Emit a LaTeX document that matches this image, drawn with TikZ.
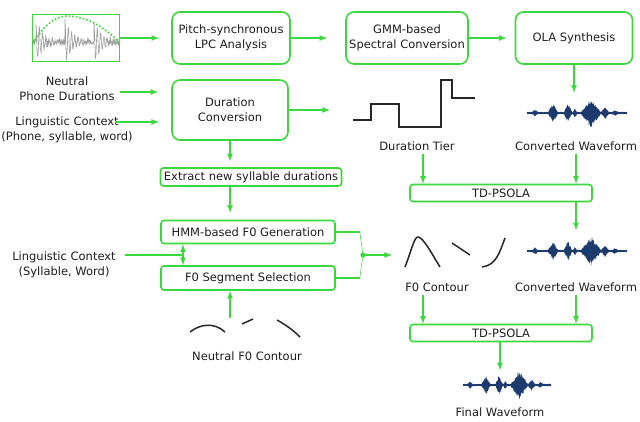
\documentclass[tikz,border=0pt]{standalone}
\usepackage{fontspec}
\setmainfont{DejaVu Sans}
\usepackage{tikz}
\usetikzlibrary{arrows}
\definecolor{boxgreen}{RGB}{60,215,60}
\definecolor{wblue}{RGB}{28,58,110}
\definecolor{txtgray}{RGB}{30,30,30}
\newcommand{\speechwave}[2]{%
  \fill[wblue,shift={#1},xscale=#2] plot[domain=0:100,samples=260] (\x,{wenv(\x)*(0.55+0.45*rnd)})
    -- plot[domain=100:0,samples=260] (\x,{-wenv(\x)*(0.55+0.45*rnd)}) -- cycle;}

\begin{document}
\pgfmathsetseed{17}
\begin{tikzpicture}[x=1pt,y=-1pt,
  declare function={bp(\t,\c,\w)=max(0,1-abs(\t-\c)/\w);
    wenv(\t)=1.2+3*bp(\t,8,3)+9*bp(\t,26,5)+10*bp(\t,41,4)+4*bp(\t,48,2)+14*bp(\t,64,10)+5*bp(\t,78,4)+2*bp(\t,88,3);},
  every node/.style={text=txtgray,font=\fontsize{11.5}{15}\selectfont},
  gbox/.style={draw=boxgreen,line width=1.6pt,rounded corners=8pt,fill=white,align=center,inner sep=0pt},
  sbox/.style={draw=boxgreen,line width=1.6pt,rounded corners=3pt,fill=white,inner sep=0pt},
  lab/.style={align=center},
  gline/.style={draw=boxgreen,line width=1.6pt},
  arr/.style={gline,-latex},
  darr/.style={gline,latex-latex},
  curve/.style={draw=black!85,line width=1.5pt}]
\fill[white] (0,0) rectangle (640,421);
\useasboundingbox (0,0) rectangle (640,421);

% top row
\node[draw=boxgreen,line width=1.6pt,minimum width=87pt,minimum height=47pt,inner sep=0pt] (thumb) at (76,38) {};
\begin{scope}
\clip (thumb.south west) rectangle (thumb.north east);
\draw[gray!75,line width=0.6pt] plot[domain=33:120,samples=300] (\x,{42-21*exp(-mod(\x+51,29)/7)*cos(mod(\x+51,29)*110)+5*rnd-2.5});
\draw[boxgreen,dotted,line width=1.6pt] (33,43) parabola bend (67,16) (120,43);
\end{scope}
\node[gbox,minimum width=118pt,minimum height=52pt] (lpc) at (231,38) {Pitch-synchronous\\LPC Analysis};
\node[gbox,minimum width=122pt,minimum height=52pt] (gmm) at (407,38) {GMM-based\\Spectral Conversion};
\node[gbox,minimum width=117pt,minimum height=52pt] (ola) at (574,38) {OLA Synthesis};

% duration part
\node[lab] (nphone) at (67,89) {Neutral\\Phone Durations};
\node[lab] (lctx1) at (67,130) {Linguistic Context\\(Phone, syllable, word)};
\node[gbox,minimum width=116pt,minimum height=60pt] (dur) at (230,110) {Duration\\Conversion};
\node[sbox,minimum width=181pt,minimum height=18pt] (ext) at (251,177) {Extract new syllable durations};
\node (tierlab) at (417,146) {Duration Tier};
\node (cw1lab) at (576,146) {Converted Waveform};
\node[sbox,minimum width=182pt,minimum height=17pt] (psola1) at (501,193) {TD-PSOLA};

% F0 part
\node[sbox,minimum width=174pt,minimum height=23pt] (hmm) at (248,232) {HMM-based F0 Generation};
\node[sbox,minimum width=174pt,minimum height=24pt] (sel) at (248,278) {F0 Segment Selection};
\node[lab] (lctx2) at (64,265) {Linguistic Context\\(Syllable, Word)};
\node (nf0lab) at (247,356) {Neutral F0 Contour};
\node (f0lab) at (437,287) {F0 Contour};
\node (cw2lab) at (576,287) {Converted Waveform};
\node[sbox,minimum width=182pt,minimum height=17pt] (psola2) at (501,333) {TD-PSOLA};
\node (finlab) at (500,412) {Final Waveform};

\coordinate (lc1) at (115,122);
\coordinate (tierin) at (330,110);
\coordinate (lc2) at (125,255);
\coordinate (dbl) at (183,255);
\coordinate (mdot) at (363,255);
\coordinate (f0in) at (392,255);
\coordinate (nf0top) at (230,318);

% plots
\draw[curve] (353,120) -- (371,120) -- (371,104) -- (399,104) -- (399,127) -- (441,127) -- (441,80) -- (452,80) -- (452,98) -- (475,98);
\draw[curve] (405,267) .. controls (411,252) and (414,237) .. (418,237) .. controls (423,237) and (432,254) .. (440,267);
\draw[curve] (452,243) -- (470,255);
\draw[curve] (482,267) .. controls (496,265) and (499,254) .. (505,238);
\draw[curve] (190,332) .. controls (200,324) and (214,322) .. (225,332);
\draw[curve] (242,324) -- (253,319);
\draw[curve] (277,320) .. controls (286,325) and (293,330) .. (300,337);
\speechwave{(527,113)}{1}
\speechwave{(527,251)}{1}
\speechwave{(463,385)}{0.88}

% connectors
\draw[arr,shorten >=12pt] (thumb) -- (lpc);
\draw[arr,shorten >=18pt] (lpc) -- (gmm);
\draw[arr,shorten >=8pt] (gmm) -- (ola);
\draw[arr] (ola.south) -- ++(0,28);
\draw[arr] ([xshift=2pt,yshift=-3pt]nphone.east) -- ++(38,0);
\draw[arr] (lc1) -- ++(44,0);
\draw[arr] (dur.east) -- (tierin);
\draw[arr,shorten >=6pt] (dur.south) -- (dur.south |- ext.north);
\draw[arr,shorten >=7pt] (dur.south |- ext.south) -- (dur.south |- hmm.north);
\draw[gline] (lc2) -- (dbl);
\draw[darr] (dbl |- hmm.south) -- (dbl |- sel.north);
\draw[arr] (nf0top) -- (nf0top |- sel.south);
\draw[gline] (hmm.east) -- ++(24,0) coordinate (hj);
\draw[gline] (sel.east) -- ++(24,0) coordinate (sj);
\draw[boxgreen,line width=0.5pt] (hj) -- (mdot) -- (sj);
\fill[boxgreen] (mdot) circle (2.6pt);
\draw[arr] (mdot) -- (f0in);
\draw[arr] ([xshift=6pt]tierlab.south) -- ([xshift=6pt]tierlab.south |- psola1.north);
\draw[arr] (cw1lab.south) -- (cw1lab.south |- psola1.north);
\draw[arr] (psola1.south -| cw1lab) -- ++(0,28);
\draw[arr] ([xshift=-14pt]f0lab.south) -- ([xshift=-14pt]f0lab.south |- psola2.north);
\draw[arr] (cw2lab.south) -- (cw2lab.south |- psola2.north);
\draw[arr] (psola2.south -| finlab) -- ++(0,28);
\end{tikzpicture}
\end{document}
